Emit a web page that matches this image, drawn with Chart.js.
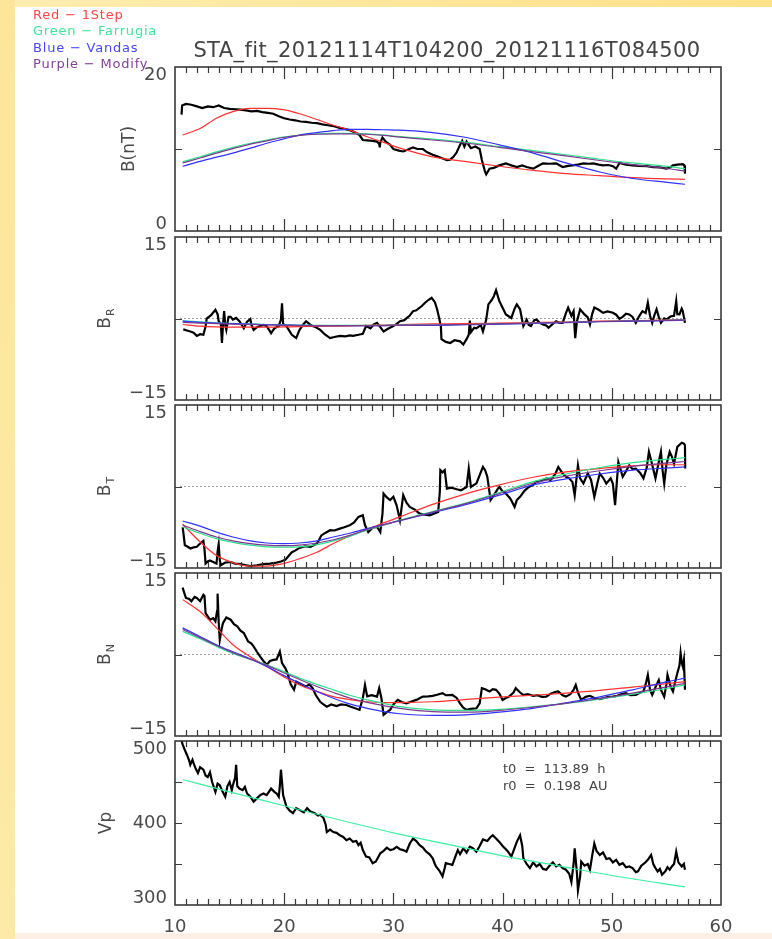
<!DOCTYPE html>
<html>
<head>
<meta charset="utf-8">
<script src="https://cdn.jsdelivr.net/npm/chart.js@4.4.0/dist/chart.umd.min.js"></script>
<style>
  html, body { margin: 0; padding: 0; }
  body { width: 772px; height: 939px; position: relative; overflow: hidden; background: #fff; font-family: "DejaVu Sans", sans-serif; }
  .strip-top { position: absolute; left: 0; top: 0; width: 772px; height: 7px; background: linear-gradient(to right, #fdedb0, #fde188); }
  .strip-left { position: absolute; left: 0; top: 0; width: 15px; height: 939px; background: linear-gradient(to bottom, #fde69a, #fdeaa8); }
  .strip-bottom { position: absolute; left: 15px; top: 933px; width: 757px; height: 6px; background: #fdefe6; }
  canvas { position: absolute; left: 0; top: 0; }
  .legend { position: absolute; left: 33px; top: 7px; font-size: 13px; line-height: 16.3px; letter-spacing: 0.8px; white-space: pre; }
  .title { position: absolute; left: 0; width: 894px; top: 40px; text-align: center; font-size: 21px; line-height: 21px; letter-spacing: 0.4px; color: #444; white-space: pre; }
  .fitinfo { position: absolute; left: 503px; top: 760px; font-size: 13px; line-height: 17px; color: #444; white-space: pre; word-spacing: 4px; }
</style>
</head>
<body>
<div class="strip-top"></div>
<div class="strip-left"></div>
<div class="strip-bottom"></div>
<canvas id="pB" width="772" height="939"></canvas>
<canvas id="pBR" width="772" height="939"></canvas>
<canvas id="pBT" width="772" height="939"></canvas>
<canvas id="pBN" width="772" height="939"></canvas>
<canvas id="pVp" width="772" height="939"></canvas>
<div class="legend"><span style="color:#ff4545">Red − 1Step</span>
<span style="color:#3fe59a">Green − Farrugia</span>
<span style="color:#4646ff">Blue − Vandas</span>
<span style="color:#84409a">Purple − Modify</span></div>
<div class="title">STA_fit_20121114T104200_20121116T084500</div>
<div class="fitinfo">t0 = 113.89 h
r0 = 0.198 AU</div>
<script>
// --- observed STEREO-A data (hours) ---
const bT = [10.6,10.65,11.0,11.5,12.0,12.5,13.0,13.5,14.0,14.5,15.0,15.5,16.0,16.5,17.0,17.5,18.0,18.5,19.0,19.5,20.0,20.5,21.0,21.5,22.0,22.5,23.0,23.5,24.0,24.5,25.0,25.5,26.0,26.5,26.9,27.2,27.6,28.1,28.5,28.7,28.75,28.8,29.0,29.3,29.7,30.0,30.5,30.9,31.3,31.8,32.2,32.7,33.1,33.6,34.0,34.4,34.9,35.2,35.5,35.8,36.1,36.3,36.5,36.7,37.1,37.5,37.9,38.1,38.4,38.5,38.8,39.2,39.7,40.3,40.8,41.3,41.8,42.2,42.8,43.2,43.7,44.3,44.9,45.5,46.0,46.4,46.9,47.4,47.9,48.3,48.8,49.2,49.7,50.1,50.4,50.7,51.3,51.9,52.5,53.2,53.8,54.4,55.0,55.3,55.6,56.0,56.5,56.65,56.7];
const bObs = [14.2,15.3,15.5,15.4,15.2,15.0,15.2,15.1,15.3,15.0,14.9,14.85,14.8,14.7,14.6,14.65,14.5,14.4,14.3,14.0,13.75,13.6,13.5,13.35,13.3,13.2,13.15,13.0,12.9,12.8,12.6,12.45,12.3,12.0,11.7,11.1,11.05,11.0,10.9,10.6,10.2,10.8,11.4,10.9,10.5,10.0,9.8,9.7,9.9,10.2,10.0,10.0,9.6,9.3,9.1,8.9,8.65,8.7,9.05,9.6,10.5,11.0,10.3,10.9,10.1,10.3,10.0,8.65,7.2,6.9,7.6,7.7,8.0,8.25,8.0,7.8,8.0,7.8,7.6,7.9,8.25,8.2,8.25,7.8,7.95,8.0,8.1,8.25,8.2,8.25,8.1,8.0,8.05,7.9,7.6,8.3,8.1,8.0,7.95,7.9,7.8,7.75,7.6,7.7,8.0,8.1,8.15,8.0,7.0];

const brT = [10.76,11.1,11.4,11.7,12.0,12.3,12.6,12.8,12.9,13.3,13.7,13.9,14.0,14.2,14.3,14.4,14.5,14.6,14.7,14.9,15.1,15.3,15.6,15.9,16.3,16.6,16.9,17.0,17.2,17.5,17.8,18.1,18.4,18.8,19.1,19.5,19.7,19.8,19.9,20.2,20.7,21.1,21.4,21.7,22.0,22.3,22.6,22.9,23.3,23.7,24.2,24.6,25.1,25.6,26.0,26.3,26.8,27.2,27.5,27.9,28.2,28.5,28.8,29.1,29.5,30.0,30.3,30.6,31.0,31.5,31.8,32.1,32.6,32.9,33.2,33.5,33.8,34.0,34.2,34.35,34.4,34.8,35.2,35.6,36.1,36.4,36.7,36.9,37.0,37.1,37.4,37.6,38.0,38.2,38.5,38.7,39.0,39.2,39.4,39.7,40.0,40.3,40.8,41.1,41.3,41.6,41.9,42.2,42.4,42.6,42.9,43.1,43.4,43.7,44.0,44.2,44.6,44.9,45.2,45.5,45.8,46.0,46.3,46.5,46.65,46.8,47.1,47.5,47.8,48.0,48.2,48.4,48.8,49.2,49.6,50.1,50.4,50.7,51.0,51.3,51.6,51.9,52.2,52.5,52.8,53.1,53.3,53.5,53.7,53.9,54.1,54.3,54.5,54.8,55.0,55.4,55.7,55.9,56.0,56.2,56.4,56.5,56.7];
const brObs = [-2.0,-2.2,-2.4,-2.6,-3.2,-2.9,-3.0,-1.5,0.0,0.6,1.6,0.8,-0.5,-1.0,-4.5,-1.0,1.35,-1.2,-2.1,0.3,0.3,-0.2,0.1,-0.5,-1.8,-0.6,-0.1,-1.2,-2.1,-1.6,-1.4,-1.2,-1.4,-2.7,-1.8,-1.4,-0.2,2.8,-1.0,-1.4,-3.0,-3.6,-2.1,-1.2,-0.5,-1.0,-1.4,-1.6,-2.1,-2.9,-3.6,-3.4,-3.2,-3.3,-3.1,-3.2,-3.0,-2.8,-1.4,-1.8,-1.1,-0.8,-1.6,-2.4,-1.9,-1.4,-1.0,-0.5,-0.3,0.55,1.35,1.5,2.3,2.9,3.4,3.8,3.0,1.7,0.0,-1.5,-3.8,-4.3,-4.5,-4.0,-4.2,-4.8,-3.8,-3.0,-0.4,-2.5,-1.7,-1.8,-1.2,-2.4,-0.2,2.6,3.4,4.1,5.2,3.2,2.0,0.75,0.1,1.8,2.6,1.7,-1.4,-0.2,-1.2,-1.4,-0.3,-0.2,-0.8,-1.1,-1.3,-1.7,-1.0,-0.5,-0.8,-0.8,1.0,2.0,0.5,1.35,-3.6,-0.6,1.7,0.75,0.2,-1.1,0.8,2.0,1.6,1.05,1.3,1.05,0.7,-0.05,0.3,0.9,0.75,0.3,-0.8,0.4,1.35,1.0,2.9,0.5,-0.8,0.6,1.7,0.3,-0.8,0.0,-0.2,0.4,0.5,3.2,0.8,0.75,1.8,1.35,-0.8];

const btT = [10.7,10.76,10.9,11.1,11.4,11.7,12.0,12.3,12.6,12.7,12.8,13.0,13.2,13.5,13.8,13.9,14.0,14.1,14.2,14.6,15.1,15.5,16.0,16.5,16.9,17.5,18.1,18.7,19.3,19.7,20.1,20.4,20.7,21.0,21.4,21.9,22.4,22.7,23.0,23.2,23.4,23.8,24.2,24.6,25.1,25.5,26.0,26.4,26.8,27.2,27.4,27.7,28.1,28.5,28.8,29.0,29.1,29.4,29.7,30.0,30.3,30.6,30.9,31.2,31.5,32.0,32.4,32.9,33.3,33.7,34.1,34.25,34.3,34.5,34.7,34.9,35.3,35.8,36.2,36.7,36.9,37.1,37.3,37.6,37.9,38.2,38.4,38.6,38.9,39.2,39.6,39.7,40.0,40.3,40.7,41.1,41.3,41.6,42.0,42.4,42.8,43.1,43.5,44.0,44.4,44.8,45.1,45.5,45.8,46.1,46.4,46.6,46.9,47.1,47.4,47.8,48.1,48.4,48.7,48.9,49.2,49.5,49.9,50.1,50.3,50.6,51.0,51.3,51.6,51.9,52.2,52.6,52.9,53.2,53.4,53.7,54.0,54.3,54.5,54.65,54.8,55.0,55.3,55.5,55.7,56.0,56.4,56.6,56.7,56.72];
const btObs = [-7.5,-8.4,-10.8,-11.0,-11.4,-11.2,-11.1,-10.5,-10.0,-11.5,-14.2,-13.8,-13.6,-13.9,-14.2,-12.0,-10.6,-13.5,-14.5,-14.0,-13.9,-14.2,-14.3,-14.5,-14.65,-14.5,-14.3,-14.2,-14.0,-13.8,-13.5,-12.8,-12.1,-11.8,-11.3,-11.0,-11.1,-10.8,-10.5,-9.8,-9.0,-8.5,-8.05,-8.1,-7.75,-7.5,-7.15,-6.6,-5.6,-5.3,-7.15,-8.4,-7.6,-7.45,-8.4,-5.0,-1.3,-2.0,-2.5,-1.9,-3.5,-6.2,-1.6,-3.0,-3.75,-4.3,-5.0,-5.2,-5.3,-5.0,-4.7,-1.0,3.0,2.6,3.0,-0.4,-0.2,-0.5,-0.7,-0.1,3.3,-0.1,0.2,0.55,2.1,3.6,3.0,1.8,-2.5,-1.6,-0.3,-0.1,-0.9,-1.3,-2.2,-3.75,-2.5,-1.9,-0.8,-0.1,0.3,0.85,1.0,1.5,1.2,2.2,3.6,2.4,1.8,1.5,0.8,-1.6,3.9,1.5,0.55,2.4,1.2,-1.9,0.8,2.4,1.6,0.55,1.5,0.5,-3.45,4.5,1.8,2.8,3.9,3.2,3.3,2.5,1.5,3.5,6.4,4.0,1.5,4.5,6.4,3.0,0.55,4.0,6.4,5.5,4.2,7.3,8.05,7.9,7.6,3.3];

const bnT = [10.7,10.76,11.0,11.3,11.5,11.8,12.0,12.3,12.6,12.7,12.8,13.0,13.2,13.5,13.7,13.85,13.9,14.0,14.1,14.3,14.4,14.7,15.1,15.4,15.7,16.0,16.3,16.7,17.0,17.2,17.5,17.8,18.1,18.4,18.7,19.0,19.3,19.6,19.7,19.8,20.1,20.3,20.6,20.9,21.1,21.4,21.7,22.0,22.3,22.6,22.9,23.3,23.6,23.9,24.3,24.8,25.2,25.7,26.1,26.5,26.9,27.2,27.4,27.6,28.0,28.5,28.7,28.9,29.1,29.4,29.7,30.0,30.4,30.8,31.2,31.6,32.1,32.4,32.7,33.2,33.6,34.0,34.5,34.8,35.4,35.8,36.1,36.4,36.7,37.1,37.6,37.9,38.1,38.4,38.8,39.1,39.4,39.7,40.0,40.3,40.6,41.0,41.2,41.6,41.9,42.3,42.8,43.2,43.6,44.0,44.4,44.8,45.1,45.5,45.8,46.2,46.5,46.7,46.9,47.2,47.6,48.0,48.4,48.9,49.3,49.7,50.1,50.5,50.9,51.3,51.7,52.2,52.6,52.9,53.1,53.3,53.5,53.7,54.0,54.3,54.5,54.8,55.0,55.1,55.4,55.6,55.8,56.0,56.2,56.3,56.4,56.5,56.6,56.7];
const bnObs = [12.3,11.9,10.4,10.2,9.8,10.6,10.4,9.8,11.0,10.8,7.6,7.0,6.4,6.7,6.1,8.0,11.2,6.0,2.7,5.0,5.8,6.8,6.4,5.6,5.2,4.4,3.95,2.4,2.0,1.5,0.5,-0.4,-1.2,-1.9,-1.2,-1.0,-0.9,0.55,-0.5,-1.6,-2.5,-3.45,-5.5,-6.5,-5.0,-5.3,-5.6,-5.9,-5.5,-6.2,-7.5,-8.7,-9.2,-9.6,-9.2,-9.5,-9.2,-9.3,-9.6,-9.9,-10.2,-8.05,-5.6,-7.7,-7.5,-7.75,-6.2,-8.0,-11.1,-10.6,-10.2,-9.2,-8.35,-8.8,-9.0,-8.7,-8.35,-8.05,-7.75,-7.7,-7.6,-7.4,-7.1,-7.5,-7.45,-8.0,-9.0,-9.8,-10.2,-10.0,-9.9,-9.0,-6.2,-6.4,-6.8,-6.4,-6.5,-7.2,-8.35,-8.0,-7.75,-7.0,-6.2,-7.0,-7.45,-7.3,-7.6,-7.5,-7.8,-7.75,-7.2,-6.9,-6.8,-7.5,-7.75,-7.3,-6.5,-5.6,-7.0,-8.35,-7.8,-7.6,-8.0,-8.2,-8.0,-7.8,-7.75,-7.6,-7.3,-7.1,-7.5,-7.45,-7.0,-6.8,-5.5,-3.75,-6.5,-7.45,-6.0,-4.7,-6.5,-7.75,-5.5,-3.75,-6.0,-6.8,-5.0,-3.45,-2.0,0.25,-1.5,-2.2,-1.0,-6.5];

const vpT = [10.6,10.7,10.9,11.1,11.3,11.4,11.6,11.7,11.9,12.1,12.3,12.6,12.8,13.0,13.2,13.4,13.7,13.9,14.1,14.3,14.6,14.8,15.0,15.2,15.3,15.5,15.6,15.7,15.9,16.2,16.4,16.6,16.9,17.2,17.5,17.8,18.1,18.4,18.8,19.1,19.3,19.5,19.6,19.7,19.8,19.9,20.2,20.5,20.8,21.1,21.4,21.8,22.1,22.4,22.8,23.1,23.3,23.6,23.8,23.9,24.2,24.5,24.8,25.1,25.4,25.7,26.0,26.3,26.6,26.8,27.0,27.2,27.5,27.8,28.1,28.4,28.8,29.1,29.4,29.7,30.0,30.3,30.6,30.9,31.2,31.5,31.8,32.1,32.4,32.7,33.0,33.3,33.6,33.8,33.9,34.2,34.5,34.7,34.8,35.1,35.4,35.7,35.9,36.1,36.4,36.7,37.0,37.3,37.6,37.9,38.2,38.6,38.9,39.1,39.4,39.7,40.0,40.3,40.5,40.8,41.0,41.3,41.6,41.8,41.9,42.2,42.5,42.8,43.1,43.4,43.7,44.0,44.3,44.6,44.9,45.2,45.5,45.8,46.1,46.3,46.5,46.6,46.8,46.9,47.1,47.2,47.5,47.8,48.0,48.2,48.4,48.6,48.9,49.2,49.5,49.8,50.1,50.4,50.7,51.0,51.3,51.6,51.9,52.2,52.4,52.7,53.0,53.3,53.6,53.8,54.0,54.2,54.4,54.6,54.9,55.1,55.3,55.5,55.7,55.9,56.1,56.4,56.6,56.7];
const vpObs = [500,496,489,483,476,471,477,473,466,461,468,465,458,456,462,450,438,448,446,440,432,445,450,440,446,455,471,445,442,440,444,436,432,426,430,434,436,434,442,438,436,432,445,465,450,434,420,415,412,418,416,413,418,414,412,409,410,406,398,389,392,389,388,385,383,379,381,377,378,373,376,367,359,358,351,353,363,366,370,367,368,371,368,367,365,375,381,378,373,370,365,362,357,350,347,342,335,345,351,350,349,360,367,362,369,364,371,369,365,372,380,378,383,385,381,377,372,368,365,359,366,377,385,372,357,350,345,352,347,350,344,343,348,352,347,349,345,343,338,328,350,369,340,318,335,353,348,350,343,360,375,366,361,364,356,357,352,355,349,351,346,347,345,340,341,348,351,355,361,350,345,341,344,337,341,346,343,347,350,365,352,347,350,343];

// --- flux-rope model fits, sampled on a common time grid ---
const fitT = [10.7,12.3,13.8,15.3,16.9,18.4,19.9,21.4,23.0,24.5,26.0,27.6,29.1,30.6,33.6,36.7,39.7,42.8,45.8,48.9,51.9,54.9,56.7];

const bRed    = [11.7,12.5,13.75,14.55,14.95,14.95,14.8,14.3,13.6,12.9,12.3,11.5,10.8,10.1,9.05,8.45,7.9,7.4,7.0,6.75,6.5,6.35,6.3];
const bGreen  = [8.45,9.05,9.65,10.2,10.7,11.1,11.45,11.7,11.85,11.9,11.9,11.85,11.7,11.5,11.2,10.8,10.3,9.8,9.3,8.75,8.3,7.9,7.6];
const bBlue   = [7.9,8.5,9.0,9.5,10.1,10.7,11.2,11.7,12.0,12.25,12.4,12.4,12.35,12.3,12.0,11.4,10.5,9.5,8.3,7.2,6.4,5.95,5.7];
const bPurple = [8.3,8.9,9.5,10.05,10.6,11.0,11.4,11.65,11.8,11.85,11.85,11.8,11.65,11.45,11.1,10.7,10.2,9.65,9.15,8.6,8.1,7.65,7.3];

const brRed    = [-1.1,-1.4,-1.55,-1.6,-1.6,-1.6,-1.55,-1.5,-1.45,-1.4,-1.35,-1.25,-1.2,-1.1,-1.0,-0.95,-0.85,-0.75,-0.65,-0.5,-0.4,-0.3,-0.25];
const brGreen  = [-0.4,-0.6,-0.8,-0.9,-1.0,-1.1,-1.15,-1.2,-1.25,-1.25,-1.25,-1.25,-1.25,-1.2,-1.2,-1.1,-1.0,-0.85,-0.7,-0.55,-0.45,-0.35,-0.25];
const brBlue   = [-0.5,-0.7,-0.85,-0.95,-1.05,-1.15,-1.2,-1.25,-1.3,-1.3,-1.3,-1.3,-1.3,-1.25,-1.25,-1.15,-1.05,-0.9,-0.75,-0.6,-0.5,-0.4,-0.3];
const brPurple = [-0.7,-0.85,-0.95,-1.05,-1.1,-1.2,-1.25,-1.3,-1.3,-1.3,-1.3,-1.3,-1.3,-1.25,-1.2,-1.1,-1.0,-0.85,-0.7,-0.55,-0.45,-0.35,-0.3];

const btRed    = [-6.95,-10.2,-12.7,-14.0,-14.65,-14.65,-14.2,-13.3,-12.1,-10.5,-9.1,-7.9,-6.7,-5.6,-3.3,-1.3,0.3,1.7,2.7,3.3,3.8,4.0,4.0];
const btGreen  = [-7.45,-8.6,-9.6,-10.3,-10.8,-11.1,-11.15,-11.1,-10.7,-10.0,-9.2,-8.0,-7.1,-6.2,-4.6,-3.0,-1.1,0.9,2.3,3.5,4.4,5.0,5.3];
const btBlue   = [-6.35,-7.3,-8.4,-9.3,-10.0,-10.4,-10.5,-10.4,-10.0,-9.3,-8.6,-7.75,-7.0,-6.3,-4.8,-3.3,-1.6,0.3,1.4,2.3,3.0,3.4,3.6];
const btPurple = [-7.1,-8.3,-9.3,-10.0,-10.5,-10.8,-10.9,-10.8,-10.4,-9.8,-9.0,-7.9,-7.05,-6.25,-4.7,-3.1,-1.3,0.6,1.9,2.9,3.7,4.3,4.6];

const bnRed    = [10.1,7.9,4.9,1.8,-0.4,-2.2,-4.05,-5.6,-6.8,-7.75,-8.3,-8.7,-8.85,-8.85,-8.7,-8.25,-7.85,-7.5,-7.1,-6.6,-6.0,-5.4,-5.0];
const bnGreen  = [4.25,2.9,1.5,0.2,-0.9,-1.9,-3.1,-4.35,-5.5,-6.5,-7.5,-8.35,-9.0,-9.6,-10.2,-10.3,-10.1,-9.6,-9.0,-8.2,-7.3,-6.3,-5.6];
const bnBlue   = [4.9,3.3,1.8,0.5,-0.8,-2.2,-3.8,-5.3,-6.8,-8.05,-9.1,-9.9,-10.5,-10.9,-11.2,-11.1,-10.6,-9.9,-8.9,-7.8,-6.5,-5.1,-4.35];
const bnPurple = [4.6,3.1,1.65,0.35,-0.85,-2.0,-3.3,-4.6,-5.9,-7.0,-8.0,-8.8,-9.4,-9.9,-10.5,-10.6,-10.3,-9.7,-9.0,-8.1,-7.1,-6.0,-5.3];

// solar wind speed fit
const vpFitT = [10.7,15,20,25,30,35,40,45,50,56.7];
const vpFit  = [453,438,421,404,388,374,360,348,336,322];

// time span of the dotted zero reference
const zeroSpan = [10.5, 57.0];
const xTickLabels = ['10','20','30','40','50','60'];

const RED = '#ff3030', GREEN = '#2ee08c', BLUE = '#3232ff', PURPLE = '#7a3a8e', MINT = '#3cf0a4';
const LABEL_FONT = '18px "DejaVu Sans"';

const pts = (ts, vs) => ts.map((t, i) => ({ x: t, y: vs[i] })).filter(p => p.y !== undefined);

function fitLine(color, ts, vs) {
    return { data: pts(ts, vs), borderColor: color, borderWidth: 1.2, pointRadius: 0, tension: 0.4, cubicInterpolationMode: 'monotone' };
}
function obsLine(ts, vs) {
    return { data: pts(ts, vs), borderColor: '#000', borderWidth: 2.2, pointRadius: 0, tension: 0 };
}
function zeroLine() {
    return { data: pts(zeroSpan, [0, 0]), borderColor: '#444', borderWidth: 1, borderDash: [1, 3], pointRadius: 0 };
}

// IDL-style box: inward ticks on all four sides, labels drawn by hand
function idlFrame(cfg) {
    return {
        id: 'idlFrame',
        afterDraw(chart) {
            const { ctx, chartArea: a, scales: { x, y } } = chart;
            ctx.save();
            ctx.strokeStyle = '#3a3a3a';
            ctx.lineWidth = 1.2;
            ctx.beginPath();
            for (let t = 11; t < 60; t++) {
                const px = Math.round(x.getPixelForValue(t)) + 0.5;
                const len = t % 10 === 0 ? 12 : 6;
                ctx.moveTo(px, a.top); ctx.lineTo(px, a.top + len);
                ctx.moveTo(px, a.bottom); ctx.lineTo(px, a.bottom - len);
            }
            cfg.yTicks.forEach(v => {
                const py = Math.round(y.getPixelForValue(v)) + 0.5;
                ctx.moveTo(a.left, py); ctx.lineTo(a.left + 7, py);
                ctx.moveTo(a.right, py); ctx.lineTo(a.right - 7, py);
            });
            ctx.stroke();
            ctx.lineWidth = 1.6;
            ctx.strokeRect(a.left, a.top, a.right - a.left, a.bottom - a.top);

            ctx.fillStyle = '#4a4a4a';
            ctx.font = LABEL_FONT;
            ctx.textAlign = 'right';
            ctx.textBaseline = 'middle';
            cfg.yLabels.forEach(([v, text]) => {
                let py = y.getPixelForValue(v);
                if (v === y.max) py += 8;
                else if (v === y.min) py -= 7;
                ctx.fillText(text, a.left - 8, py);
            });

            if (cfg.xLabels) {
                ctx.textAlign = 'center';
                cfg.xLabels.forEach(s => ctx.fillText(s, x.getPixelForValue(+s), a.bottom + 22));
            }

            // rotated axis title, optional subscript
            ctx.translate(cfg.titleX, (a.top + a.bottom) / 2);
            ctx.rotate(-Math.PI / 2);
            ctx.textBaseline = 'alphabetic';
            ctx.textAlign = 'left';
            ctx.font = '17px "DejaVu Sans"';
            const w1 = ctx.measureText(cfg.title).width;
            let w2 = 0;
            if (cfg.sub) {
                ctx.font = '11px "DejaVu Sans"';
                w2 = ctx.measureText(cfg.sub).width + 1;
            }
            const x0 = -(w1 + w2) / 2;
            ctx.font = '17px "DejaVu Sans"';
            ctx.fillText(cfg.title, x0, 0);
            if (cfg.sub) {
                ctx.font = '11px "DejaVu Sans"';
                ctx.fillText(cfg.sub, x0 + w1 + 1, 4);
            }
            ctx.restore();
        }
    };
}

function makePanel(id, top, bottom, yMin, yMax, datasets, frame) {
    return new Chart(document.getElementById(id), {
        type: 'line',
        data: { datasets },
        options: {
            responsive: false,
            animation: false,
            devicePixelRatio: 1,
            layout: { padding: { left: 175, right: 51, top: top, bottom: 939 - bottom } },
            plugins: { legend: { display: false }, tooltip: { enabled: false } },
            scales: {
                x: { type: 'linear', min: 10, max: 60, display: false },
                y: { type: 'linear', min: yMin, max: yMax, display: false }
            }
        },
        plugins: [idlFrame(frame)]
    });
}

makePanel('pB', 67, 231, 0, 20, [
    fitLine(PURPLE, fitT, bPurple), fitLine(BLUE, fitT, bBlue), fitLine(GREEN, fitT, bGreen), fitLine(RED, fitT, bRed),
    obsLine(bT, bObs)
], { yTicks: [10], yLabels: [[20, '20'], [0, '0']], title: 'B(nT)', titleX: 134 });

makePanel('pBR', 237, 400, -15, 15, [
    fitLine(PURPLE, fitT, brPurple), fitLine(BLUE, fitT, brBlue), fitLine(GREEN, fitT, brGreen), fitLine(RED, fitT, brRed),
    obsLine(brT, brObs), zeroLine()
], { yTicks: [0], yLabels: [[15, '15'], [-15, '−15']], title: 'B', sub: 'R', titleX: 110 });

makePanel('pBT', 405, 568, -15, 15, [
    fitLine(PURPLE, fitT, btPurple), fitLine(BLUE, fitT, btBlue), fitLine(GREEN, fitT, btGreen), fitLine(RED, fitT, btRed),
    obsLine(btT, btObs), zeroLine()
], { yTicks: [0], yLabels: [[15, '15'], [-15, '−15']], title: 'B', sub: 'T', titleX: 110 });

makePanel('pBN', 573, 736, -15, 15, [
    fitLine(PURPLE, fitT, bnPurple), fitLine(BLUE, fitT, bnBlue), fitLine(GREEN, fitT, bnGreen), fitLine(RED, fitT, bnRed),
    obsLine(bnT, bnObs), zeroLine()
], { yTicks: [0], yLabels: [[15, '15'], [-15, '−15']], title: 'B', sub: 'N', titleX: 110 });

makePanel('pVp', 741, 905, 300, 500, [
    fitLine(MINT, vpFitT, vpFit),
    obsLine(vpT, vpObs)
], { yTicks: [350, 400, 450], yLabels: [[500, '500'], [400, '400'], [300, '300']], xLabels: xTickLabels, title: 'Vp', titleX: 111 });
</script>
</body>
</html>
